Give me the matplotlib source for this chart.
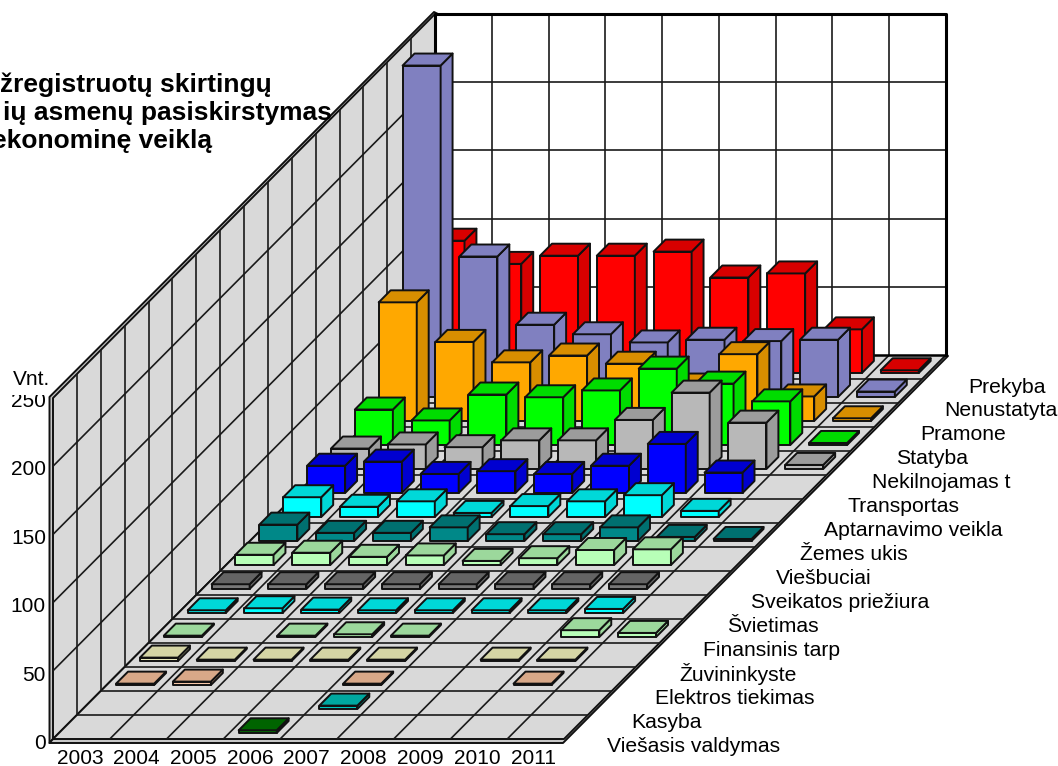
import matplotlib
matplotlib.use('Agg')
import matplotlib.pyplot as plt
from matplotlib.patches import Polygon, Rectangle

plt.rcParams['font.family'] = ['Liberation Sans', 'DejaVu Sans']

years = ['2003', '2004', '2005', '2006', '2007', '2008', '2009', '2010', '2011']
y_ticks = [0, 50, 100, 150, 200, 250]

# front to back, same order as the depth axis
activities = ['Viešasis valdymas', 'Kasyba', 'Elektros tiekimas', 'Žuvininkyste',
              'Finansinis tarp', 'Švietimas', 'Sveikatos priežiura', 'Viešbuciai',
              'Žemes ukis', 'Aptarnavimo veikla', 'Transportas', 'Nekilnojamas t',
              'Statyba', 'Pramone', 'Nenustatyta', 'Prekyba']

viesasis = [0, 0, 0, 2, 0, 0, 0, 0, 0]
kasyba = [0, 0, 0, 0, 2.5, 0, 0, 0, 0]
elektros = [1, 2.5, 0, 0, 1, 0, 0, 1, 0]
zuvininkyste = [2.5, 1, 1, 1, 1, 0, 1, 1, 0]
finansinis = [1, 0, 1, 2, 1, 0, 0, 5, 3]
svietimas = [2, 3.5, 2.5, 2, 2, 2, 2, 3, 0]
sveikatos = [3.5, 3.5, 3.5, 3.5, 3.5, 3.5, 3.5, 3.5, 0]
viesbuciai = [7.5, 9, 6, 7, 3, 5, 11, 11.5, 0]
zemes_ukis = [12, 6, 6, 10, 5, 5, 10, 3, 1.5]
aptarnavimo = [14.5, 7.5, 11.5, 3, 8, 11.5, 16, 4.5, 0]
transportas = [20, 23, 14, 16, 14, 20, 36, 15, 0]
nekilnojamas = [15, 18, 16, 21, 21, 36, 56, 34, 3]
statyba = [26, 18, 37, 35, 40, 56, 45, 32, 1.5]
pramone = [87, 58, 43, 48, 42, 26, 49, 18, 2]
nenustatyta = [243, 103, 53, 46, 40, 42, 41, 42, 4]
prekyba = [97, 80, 86, 86, 89, 70, 73, 32, 2]

series = [viesasis, kasyba, elektros, zuvininkyste, finansinis, svietimas, sveikatos,
          viesbuciai, zemes_ukis, aptarnavimo, transportas, nekilnojamas, statyba,
          pramone, nenustatyta, prekyba]

# (front colour, top and side colour)
colors = [('#007800', '#006400'), ('#00C8C0', '#00A8A0'), ('#F8C8A8', '#D8A888'),
          ('#E8E8BC', '#D5D5A5'), ('#B8FFB8', '#9CD89C'), ('#00FFFF', '#00D8D8'),
          ('#787878', '#646464'), ('#B8FFB8', '#9CD89C'), ('#008888', '#007070'),
          ('#00FFFF', '#00D8D8'), ('#0000FF', '#0000D0'), ('#B8B8B8', '#9C9C9C'),
          ('#00FF00', '#00DC00'), ('#FFA800', '#D88E00'), ('#8080C0', '#8080C0'),
          ('#FF0000', '#D80000')]

# oblique projection of the Excel chart box: column, depth, value -> picture position
X0, Y0 = 53, 739
COL_W = 511 / 9
DEPTH_X = 382 / 16
DEPTH_Y = 384 / 16
VAL_Y = 341 / 250
BAR_W = 0.67
BAR_D = 0.5


def proj(col, depth, value=0):
    return (X0 + col * COL_W + depth * DEPTH_X, Y0 - depth * DEPTH_Y - value * VAL_Y)


def face(ax, pts, fc, z, ec='#111111', lw=1.4):
    ax.add_patch(Polygon(pts, closed=True, facecolor=fc, edgecolor=ec, linewidth=lw,
                         joinstyle='round', zorder=z))


def line(ax, p, q, z=2, lw=1.2, c='#1a1a1a'):
    ax.plot([p[0], q[0]], [p[1], q[1]], color=c, linewidth=lw, zorder=z,
            solid_capstyle='butt')


def draw_bar(ax, col, depth, value, front, shade, z):
    x0 = col + (1 - BAR_W) / 2
    x1 = x0 + BAR_W
    d0 = depth + (1 - BAR_D) / 2
    d1 = d0 + BAR_D
    face(ax, [proj(x0, d0), proj(x1, d0), proj(x1, d0, value), proj(x0, d0, value)], front, z)
    face(ax, [proj(x1, d0), proj(x1, d1), proj(x1, d1, value), proj(x1, d0, value)], shade, z)
    face(ax, [proj(x0, d0, value), proj(x1, d0, value), proj(x1, d1, value), proj(x0, d1, value)], shade, z)


n_col = len(years)
n_depth = len(activities)
top = y_ticks[-1]

fig = plt.figure(figsize=(10.58, 7.66), dpi=100)
ax = fig.add_axes([0, 0, 1, 1])
ax.set_xlim(0, 1058)
ax.set_ylim(766, 0)
ax.axis('off')

# wall and floor slabs
slab = '#C8C8C8'
face(ax, [(49.5, 743), (49.5, 397), (434, 12), (438, 14), (53, 739)], slab, 1)
face(ax, [(49.5, 743), (563, 743), (948, 356), (946, 354), (53, 739)], slab, 1)

# walls and floor
face(ax, [proj(0, 0), proj(0, n_depth), proj(0, n_depth, top), proj(0, 0, top)], '#D9D9D9', 1.5)
face(ax, [proj(0, 0), proj(n_col, 0), proj(n_col, n_depth), proj(0, n_depth)], '#D9D9D9', 1.5)
ax.add_patch(Polygon([proj(0, n_depth), proj(n_col, n_depth), proj(n_col, n_depth, top),
                      proj(0, n_depth, top)], closed=True, facecolor='white',
                     edgecolor='none', zorder=1.5))

# gridlines
for i in range(1, n_col):
    line(ax, proj(i, 0), proj(i, n_depth))
    line(ax, proj(i, n_depth), proj(i, n_depth, top))
for d in range(1, n_depth):
    line(ax, proj(0, d), proj(n_col, d))
    line(ax, proj(0, d), proj(0, d, top))
for v in y_ticks[1:-1]:
    line(ax, proj(0, 0, v), proj(0, n_depth, v))
    line(ax, proj(0, n_depth, v), proj(n_col, n_depth, v))

# heavy back wall frame
frame = [proj(0, n_depth), proj(0, n_depth, top), proj(n_col, n_depth, top), proj(n_col, n_depth)]
ax.plot([p[0] for p in frame], [p[1] for p in frame], color='black', linewidth=2.2, zorder=2.5)
line(ax, proj(0, n_depth), proj(n_col, n_depth), z=2.5, lw=1.8, c='black')

# bars, back row first so the front rows cover them
for d in range(n_depth - 1, -1, -1):
    for c in range(n_col):
        if series[d][c] > 0:
            draw_bar(ax, c, d, series[d][c], colors[d][0], colors[d][1], 3 + (n_depth - d))

# axis text
for c, year in enumerate(years):
    ax.text(80 + c * 56.7, 758, year, fontsize=15, ha='center', va='center', zorder=30)
for v in y_ticks:
    ax.text(46, 743.5 - v * 342 / 250, str(v), fontsize=15, ha='right', va='center', zorder=30)
# the label box in the original hides the top of the 250
ax.add_patch(Rectangle((12, 368), 36, 27, facecolor='white', edgecolor='none', zorder=30.5))
ax.text(13, 385, 'Vnt.', fontsize=15, ha='left', va='baseline', zorder=31)
for d, name in enumerate(activities):
    ax.text(607 + d * 24.07, 746 - d * 23.93, name, fontsize=15.2, ha='left', va='center', zorder=30)

title_lines = ['žregistruotų skirtingų', 'ių asmenų pasiskirstymas', 'ekonominę veiklą']
title_right = [272, 332, 212]
title_y = [85, 113, 141]
for txt, xr, yc in zip(title_lines, title_right, title_y):
    ax.text(xr, yc, txt, fontsize=19, fontweight='bold', ha='right', va='center', zorder=40)

fig.savefig('out.png', dpi=100)
